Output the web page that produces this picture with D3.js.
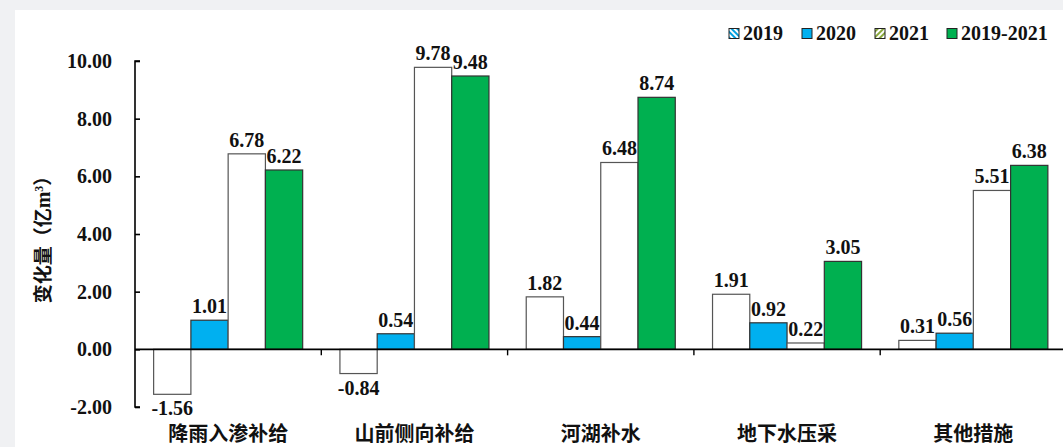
<!DOCTYPE html>
<html><head><meta charset="utf-8">
<script src="https://cdn.jsdelivr.net/npm/d3@7/dist/d3.min.js"></script>
<style>
html,body{margin:0;padding:0;background:#f0f1f3;}
svg{display:block;}
</style></head>
<body>
<script>
const categories = ["降雨入渗补给","山前侧向补给","河湖补水","地下水压采","其他措施"];
const seriesNames = ["2019","2020","2021","2019-2021"];
const v2019 = [-1.56,-0.84,1.82,1.91,0.31];
const v2020 = [1.01,0.54,0.44,0.92,0.56];
const v2021 = [6.78,9.78,6.48,0.22,5.51];
const v2019_2021 = [6.22,9.48,8.74,3.05,6.38];
const yTicks = [-2,0,2,4,6,8,10];

const W=1063,H=447;
const svg=d3.select("body").append("svg").attr("width",W).attr("height",H);
const defs=svg.append("defs");
function hatch(id,col,ang){
  const p=defs.append("pattern").attr("id",id).attr("patternUnits","userSpaceOnUse")
    .attr("width",4).attr("height",4).attr("patternTransform",`rotate(${ang})`);
  p.append("rect").attr("width",4).attr("height",4).attr("fill","#fff");
  p.append("rect").attr("width",2).attr("height",4).attr("fill",col);
}
hatch("h2019","#00a0e0",-45);
hatch("h2021","#8aa83c",45);

svg.append("rect").attr("x",15).attr("y",10).attr("width",W-15).attr("height",H-10).attr("fill","#fff");

const x0=135, x1=1066.5;
const y=d3.scaleLinear().domain([-2,10]).range([407,61]);
const xc=d3.scaleBand().domain(categories).range([x0,x1]).padding(0);
const xs=d3.scaleBand().domain(seriesNames).range([xc.bandwidth()*0.1,xc.bandwidth()*0.9]).padding(0);

const series=[v2019,v2020,v2021,v2019_2021];
const fills=["#fff","#00b0f0","#fff","#00b050"];
const strokes=["#555","#333","#555","#333"];
const serif="'Liberation Serif','Times New Roman',serif";
const cjk="'Noto Sans CJK SC','Noto Sans',sans-serif";

// bars
const g=svg.append("g");
categories.forEach((c,i)=>{
  series.forEach((s,j)=>{
    const v=s[i];
    const bx=xc(c)+xs(seriesNames[j]);
    g.append("rect").attr("x",bx).attr("width",xs.bandwidth())
      .attr("y",Math.min(y(v),y(0))).attr("height",Math.abs(y(v)-y(0)))
      .attr("fill",fills[j]).attr("stroke",strokes[j]).attr("stroke-width",1.2);
  });
});
// labels
categories.forEach((c,i)=>{
  series.forEach((s,j)=>{
    const v=s[i];
    const cx=xc(c)+xs(seriesNames[j])+xs.bandwidth()/2;
    g.append("text").attr("x",cx).attr("y",v>=0?y(v)-7:y(v)+21)
      .attr("text-anchor","middle").attr("font-family",serif).attr("font-weight","bold")
      .attr("font-size",20).attr("fill","#111").text(v.toFixed(2));
  });
});

// y axis
const ya=svg.append("g").attr("transform",`translate(${x0},0)`)
  .call(d3.axisRight(y).tickValues(yTicks).tickSize(5).tickFormat(""));
ya.select(".domain").attr("stroke","#000").attr("stroke-width",1.6).attr("d",`M5,${y(-2)}H0V${y(10)}H5`);
ya.selectAll(".tick line").attr("stroke","#000").attr("stroke-width",1.6);
svg.append("g").selectAll("text").data(yTicks).join("text")
  .attr("x",112).attr("y",d=>y(d)).attr("dy","0.35em").attr("text-anchor","end")
  .attr("font-family",serif).attr("font-weight","bold").attr("font-size",20).attr("fill","#111")
  .text(d=>d.toFixed(2));

// x axis
const xa=svg.append("g").attr("transform",`translate(0,${y(0)})`)
  .call(d3.axisBottom(xc).tickSize(0).tickFormat(""));
xa.select(".domain").attr("stroke","#000").attr("stroke-width",1.6).attr("d",`M${x0},0H${x1}`);
xa.selectAll(".tick").remove();
svg.append("g").selectAll("line").data(categories.slice(1)).join("line")
  .attr("x1",d=>xc(d)).attr("x2",d=>xc(d)).attr("y1",y(0)).attr("y2",y(0)+6)
  .attr("stroke","#000").attr("stroke-width",1.4);
svg.append("g").selectAll("text").data(categories).join("text")
  .attr("x",d=>xc(d)+xc.bandwidth()/2).attr("y",441).attr("text-anchor","middle")
  .attr("font-family",cjk).attr("font-weight","bold").attr("font-size",20).attr("fill","#111")
  .text(d=>d);

// y title
const yt=svg.append("text").attr("transform","translate(50,235) rotate(-90)")
  .attr("text-anchor","middle").attr("font-weight","bold").attr("font-size",19).attr("fill","#111");
yt.append("tspan").attr("font-family",cjk).text("变化量（亿");
yt.append("tspan").attr("font-family",serif).attr("font-size",20).text("m");
yt.append("tspan").attr("font-family",serif).attr("font-size",12).attr("dy",-7).text("3");
yt.append("tspan").attr("font-family",cjk).attr("dy",7).text("）");

// legend
const legX=[729,802,875,947];
const legFill=["url(#h2019)","#00b0f0","url(#h2021)","#00b050"];
const lg=svg.append("g");
seriesNames.forEach((n,i)=>{
  lg.append("rect").attr("x",legX[i]).attr("y",28.5).attr("width",10).attr("height",10)
    .attr("fill",legFill[i]).attr("stroke","#222").attr("stroke-width",1);
  lg.append("text").attr("x",legX[i]+14).attr("y",40).attr("font-family",serif)
    .attr("font-weight","bold").attr("font-size",20).attr("fill","#111").text(n);
});
</script>
</body></html>
